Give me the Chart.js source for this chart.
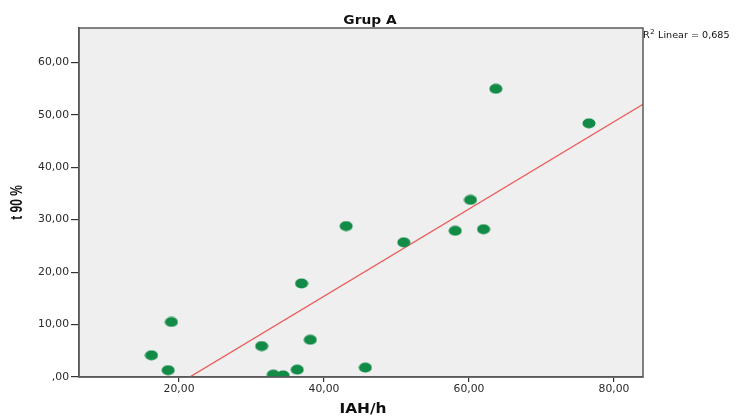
<!DOCTYPE html>
<html>
<head>
<meta charset="utf-8">
<script src="https://cdn.jsdelivr.net/npm/chart.js@4"></script>
<style>
  body { margin: 0; background: #fff; }
  #wrap { width: 746px; height: 416px; }
</style>
</head>
<body>
<div id="wrap"><canvas id="myChart" width="746" height="416"></canvas></div>
<script>
// valores: IAH/h contra t 90 %
const iah = [18.95, 16.2, 18.5, 36.9, 31.4, 38.1, 33.0, 34.35, 36.3, 45.7, 43.05, 51.0, 60.2, 58.1, 62.0, 63.7, 76.55];
const t90 = [10.5, 4.15, 1.3, 17.85, 5.9, 7.1, 0.45, 0.3, 1.4, 1.8, 28.8, 25.7, 33.8, 27.9, 28.2, 55.0, 48.4];
const ticksX = [20, 40, 60, 80];
const ticksY = [0, 10, 20, 30, 40, 50, 60];
const titulo = "Grup A";
const tituloX = "IAH/h";
const tituloY = "t 90 %";
const r2Texto = " Linear = 0,685";

const ejeX = { min: 6.2, max: 84 };
const ejeY = { min: 0, max: 66.6 };

//! recta de minimos cuadrados a partir de los puntos
const mediaX = iah.reduce((a, b) => a + b, 0) / iah.length;
const mediaY = t90.reduce((a, b) => a + b, 0) / t90.length;
let sxy = 0, sxx = 0;
for (let i = 0; i < iah.length; i++) {
    sxy += (iah[i] - mediaX) * (t90[i] - mediaY);
    sxx += (iah[i] - mediaX) * (iah[i] - mediaX);
}
const pendiente = sxy / sxx;
const corte = mediaY - pendiente * mediaX;
const recta = [ejeX.min, ejeX.max].map((x) => ({ x: x, y: corte + pendiente * x }));

// punto ovalado como en SPSS
const punto = document.createElement("canvas");
punto.width = 14;
punto.height = 11;
const pctx = punto.getContext("2d");
pctx.fillStyle = "#128b47";
pctx.beginPath();
pctx.ellipse(7, 5.5, 6.5, 5, 0, 0, Math.PI * 2);
pctx.fill();

const formato = (v) => v === 0 ? ",00" : v.toFixed(2).replace(".", ",");
const SANS = "'DejaVu Sans', sans-serif";
const ARIAL = "'Liberation Sans', Arial, sans-serif";

// texto ensanchado en horizontal (SPSS lo exporta asi)
function texto(ctx, str, x, y, font, align, ancho) {
    ctx.save();
    ctx.font = font;
    ctx.textAlign = align;
    ctx.translate(x, y);
    ctx.scale(ancho, 1);
    ctx.fillText(str, 0, 0);
    ctx.restore();
}

const fondoYMarco = {
    id: "fondoYMarco",
    beforeDraw(chart) {
        const { ctx, chartArea: a } = chart;
        ctx.save();
        ctx.fillStyle = "#efefef";
        ctx.fillRect(a.left, a.top, a.right - a.left, a.bottom - a.top);
        ctx.restore();
    },
    afterDraw(chart) {
        const { ctx, chartArea: a } = chart;
        const sx = chart.scales.x, sy = chart.scales.y;
        ctx.save();
        ctx.strokeStyle = "#5a5a5a";
        ctx.lineWidth = 1.5;
        ctx.strokeRect(a.left, a.top, a.right - a.left, a.bottom - a.top);

        // etiquetas de los ejes
        ctx.fillStyle = "#2a2a2a";
        ctx.textBaseline = "middle";
        sy.ticks.forEach((t) => {
            texto(ctx, formato(t.value), 69, sy.getPixelForValue(t.value), "10px " + SANS, "right", 1.08);
        });
        sx.ticks.forEach((t) => {
            texto(ctx, formato(t.value), sx.getPixelForValue(t.value), 389, "10px " + SANS, "center", 1.08);
        });

        ctx.fillStyle = "#111";
        ctx.textBaseline = "alphabetic";
        texto(ctx, titulo, 370, 24, "bold 12px " + SANS, "center", 1.15);

        // R2
        texto(ctx, "R", 643, 38, "8.5px " + SANS, "left", 1.13);
        texto(ctx, "2", 650, 34, "6.5px " + SANS, "left", 1.13);
        texto(ctx, r2Texto, 655, 38, "8.5px " + SANS, "left", 1.13);

        // titulos de ejes
        texto(ctx, tituloX, 363, 413, "bold 14px " + SANS, "center", 1.1);
        ctx.translate(18, 202.5);
        ctx.rotate(-Math.PI / 2);
        ctx.scale(1, 1.3);
        ctx.font = "bold 12px " + ARIAL;
        ctx.textAlign = "center";
        ctx.textBaseline = "middle";
        ctx.fillText(tituloY, 0, 0);
        ctx.restore();
    }
};

new Chart(document.getElementById("myChart"), {
    type: "scatter",
    data: {
        datasets: [
            {
                label: "puntos",
                data: iah.map((x, i) => ({ x: x, y: t90[i] })),
                pointStyle: punto,
                order: 1
            },
            {
                type: "line",
                label: "ajuste",
                data: recta,
                borderColor: "#ee5a5a",
                borderWidth: 1.3,
                pointRadius: 0,
                fill: false,
                order: 2
            }
        ]
    },
    options: {
        responsive: false,
        animation: false,
        events: [],
        layout: { padding: { left: 0, top: 28, right: 103, bottom: 0 } },
        plugins: { legend: { display: false }, tooltip: { enabled: false } },
        scales: {
            x: {
                type: "linear",
                min: ejeX.min,
                max: ejeX.max,
                afterFit: (s) => { s.height = 39; },
                afterBuildTicks: (s) => { s.ticks = ticksX.map((v) => ({ value: v })); },
                grid: { drawOnChartArea: false, tickLength: 5, color: "#333", lineWidth: 1.2 },
                border: { color: "#5a5a5a", width: 1.5 },
                ticks: { display: false }
            },
            y: {
                type: "linear",
                min: ejeY.min,
                max: ejeY.max,
                afterFit: (s) => { s.width = 79; },
                afterBuildTicks: (s) => { s.ticks = ticksY.map((v) => ({ value: v })); },
                grid: { drawOnChartArea: false, tickLength: 8, color: "#333", lineWidth: 1.2 },
                border: { color: "#5a5a5a", width: 1.5 },
                ticks: { display: false }
            }
        }
    },
    plugins: [fondoYMarco]
});
</script>
</body>
</html>
